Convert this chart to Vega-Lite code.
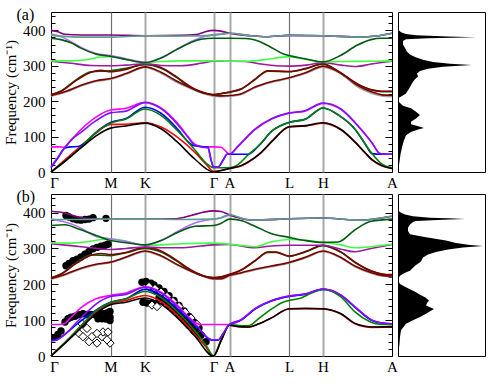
{
"$schema": "https://vega.github.io/schema/vega-lite/v6.json",
"background": "white",
"padding": {"left": 3, "top": 6, "right": 4, "bottom": 4},
"spacing": -3,
"config": {"view": {"stroke": "black", "strokeWidth": 1}, "font": "Liberation Serif"},
"datasets": {
"bands": [
{"p":"a","b":"Lr","k":0,"f":0},{"p":"a","b":"Lr","k":15,"f":37},{"p":"a","b":"Lr","k":30,"f":74},{"p":"a","b":"Lr","k":45,"f":110},{"p":"a","b":"Lr","k":59.5,"f":134},{"p":"a","b":"Lr","k":75,"f":135},{"p":"a","b":"Lr","k":94,"f":139},{"p":"a","b":"Lr","k":110,"f":127},{"p":"a","b":"Lr","k":127,"f":97},{"p":"a","b":"Lr","k":144,"f":55},{"p":"a","b":"Lr","k":155,"f":22},{"p":"a","b":"Lr","k":162.5,"f":2},{"p":"a","b":"Lr","k":170,"f":4},{"p":"a","b":"Lr","k":178.5,"f":10},{"p":"a","b":"Lr","k":190,"f":17},{"p":"a","b":"Lr","k":198,"f":29},{"p":"a","b":"Lr","k":210,"f":54},{"p":"a","b":"Lr","k":222,"f":89},{"p":"a","b":"Lr","k":238,"f":127},{"p":"a","b":"Lr","k":255,"f":130},{"p":"a","b":"Lr","k":272,"f":138},{"p":"a","b":"Lr","k":290,"f":119},{"p":"a","b":"Lr","k":304,"f":84},{"p":"a","b":"Lr","k":314,"f":54},{"p":"a","b":"Lr","k":321,"f":34},{"p":"a","b":"Lr","k":331,"f":17},{"p":"a","b":"Lr","k":341,"f":10},
{"p":"a","b":"Lm","k":0,"f":71},{"p":"a","b":"Lm","k":8,"f":71},{"p":"a","b":"Lm","k":13,"f":70},{"p":"a","b":"Lm","k":20,"f":90},{"p":"a","b":"Lm","k":30,"f":120},{"p":"a","b":"Lm","k":45,"f":155},{"p":"a","b":"Lm","k":59.5,"f":175},{"p":"a","b":"Lm","k":75,"f":180},{"p":"a","b":"Lm","k":94,"f":197},{"p":"a","b":"Lm","k":110,"f":181},{"p":"a","b":"Lm","k":127,"f":136},{"p":"a","b":"Lm","k":137,"f":100},{"p":"a","b":"Lm","k":143,"f":80},{"p":"a","b":"Lm","k":150,"f":72},{"p":"a","b":"Lm","k":157,"f":71},{"p":"a","b":"Lm","k":162.5,"f":71},{"p":"a","b":"Lm","k":170,"f":70},{"p":"a","b":"Lm","k":175,"f":58},{"p":"a","b":"Lm","k":178.5,"f":50},{"p":"a","b":"Lm","k":187,"f":72},{"p":"a","b":"Lm","k":204,"f":120},{"p":"a","b":"Lm","k":221,"f":150},{"p":"a","b":"Lm","k":238,"f":166},{"p":"a","b":"Lm","k":254,"f":172},{"p":"a","b":"Lm","k":272,"f":194},{"p":"a","b":"Lm","k":290,"f":177},{"p":"a","b":"Lm","k":304,"f":139},{"p":"a","b":"Lm","k":321,"f":82},{"p":"a","b":"Lm","k":329,"f":52},{"p":"a","b":"Lm","k":335,"f":50},{"p":"a","b":"Lm","k":341,"f":50},
{"p":"a","b":"Lb","k":0,"f":12},{"p":"a","b":"Lb","k":7,"f":40},{"p":"a","b":"Lb","k":14,"f":68},{"p":"a","b":"Lb","k":20,"f":71},{"p":"a","b":"Lb","k":27,"f":72},{"p":"a","b":"Lb","k":35,"f":85},{"p":"a","b":"Lb","k":45,"f":112},{"p":"a","b":"Lb","k":59.5,"f":140},{"p":"a","b":"Lb","k":75,"f":151},{"p":"a","b":"Lb","k":94,"f":183},{"p":"a","b":"Lb","k":110,"f":166},{"p":"a","b":"Lb","k":127,"f":120},{"p":"a","b":"Lb","k":137,"f":86},{"p":"a","b":"Lb","k":143,"f":74},{"p":"a","b":"Lb","k":150,"f":72},{"p":"a","b":"Lb","k":157,"f":70},{"p":"a","b":"Lb","k":160,"f":35},{"p":"a","b":"Lb","k":162.5,"f":14},{"p":"a","b":"Lb","k":167,"f":14},{"p":"a","b":"Lb","k":172,"f":33},{"p":"a","b":"Lb","k":176,"f":50},{"p":"a","b":"Lb","k":178.5,"f":50},{"p":"a","b":"Lb","k":190,"f":50},{"p":"a","b":"Lb","k":197,"f":50},{"p":"a","b":"Lb","k":208,"f":75},{"p":"a","b":"Lb","k":221,"f":116},{"p":"a","b":"Lb","k":238,"f":140},{"p":"a","b":"Lb","k":255,"f":150},{"p":"a","b":"Lb","k":272,"f":181},{"p":"a","b":"Lb","k":288,"f":160},{"p":"a","b":"Lb","k":304,"f":121},{"p":"a","b":"Lb","k":314,"f":80},{"p":"a","b":"Lb","k":321,"f":52},{"p":"a","b":"Lb","k":330,"f":50},{"p":"a","b":"Lb","k":341,"f":50},
{"p":"a","b":"Lg","k":0,"f":0},{"p":"a","b":"Lg","k":15,"f":32},{"p":"a","b":"Lg","k":30,"f":70},{"p":"a","b":"Lg","k":45,"f":112},{"p":"a","b":"Lg","k":59.5,"f":138},{"p":"a","b":"Lg","k":75,"f":150},{"p":"a","b":"Lg","k":94,"f":178},{"p":"a","b":"Lg","k":110,"f":160},{"p":"a","b":"Lg","k":127,"f":115},{"p":"a","b":"Lg","k":144,"f":62},{"p":"a","b":"Lg","k":155,"f":25},{"p":"a","b":"Lg","k":162.5,"f":12},{"p":"a","b":"Lg","k":170,"f":12},{"p":"a","b":"Lg","k":178.5,"f":12},{"p":"a","b":"Lg","k":187,"f":21},{"p":"a","b":"Lg","k":197,"f":48},{"p":"a","b":"Lg","k":208,"f":75},{"p":"a","b":"Lg","k":221,"f":116},{"p":"a","b":"Lg","k":238,"f":140},{"p":"a","b":"Lg","k":255,"f":150},{"p":"a","b":"Lg","k":272,"f":181},{"p":"a","b":"Lg","k":288,"f":160},{"p":"a","b":"Lg","k":304,"f":121},{"p":"a","b":"Lg","k":314,"f":80},{"p":"a","b":"Lg","k":321,"f":52},{"p":"a","b":"Lg","k":331,"f":22},{"p":"a","b":"Lg","k":341,"f":12},
{"p":"a","b":"Lk","k":0,"f":0},{"p":"a","b":"Lk","k":15,"f":33},{"p":"a","b":"Lk","k":30,"f":68},{"p":"a","b":"Lk","k":45,"f":102},{"p":"a","b":"Lk","k":59.5,"f":124},{"p":"a","b":"Lk","k":75,"f":130},{"p":"a","b":"Lk","k":94,"f":138},{"p":"a","b":"Lk","k":110,"f":122},{"p":"a","b":"Lk","k":127,"f":83},{"p":"a","b":"Lk","k":144,"f":36},{"p":"a","b":"Lk","k":162.5,"f":0},{"p":"a","b":"Lk","k":170,"f":4},{"p":"a","b":"Lk","k":178.5,"f":10},{"p":"a","b":"Lk","k":190,"f":18},{"p":"a","b":"Lk","k":198,"f":30},{"p":"a","b":"Lk","k":210,"f":55},{"p":"a","b":"Lk","k":222,"f":90},{"p":"a","b":"Lk","k":238,"f":128},{"p":"a","b":"Lk","k":255,"f":131},{"p":"a","b":"Lk","k":272,"f":139},{"p":"a","b":"Lk","k":290,"f":120},{"p":"a","b":"Lk","k":304,"f":85},{"p":"a","b":"Lk","k":314,"f":55},{"p":"a","b":"Lk","k":321,"f":35},{"p":"a","b":"Lk","k":331,"f":18},{"p":"a","b":"Lk","k":341,"f":10},
{"p":"a","b":"Lp","k":0,"f":14},{"p":"a","b":"Lp","k":7,"f":42},{"p":"a","b":"Lp","k":14,"f":70},{"p":"a","b":"Lp","k":22,"f":95},{"p":"a","b":"Lp","k":30,"f":112},{"p":"a","b":"Lp","k":45,"f":145},{"p":"a","b":"Lp","k":59.5,"f":167},{"p":"a","b":"Lp","k":75,"f":172},{"p":"a","b":"Lp","k":94,"f":196},{"p":"a","b":"Lp","k":110,"f":179},{"p":"a","b":"Lp","k":127,"f":133},{"p":"a","b":"Lp","k":137,"f":98},{"p":"a","b":"Lp","k":143,"f":78},{"p":"a","b":"Lp","k":150,"f":71},{"p":"a","b":"Lp","k":157,"f":68},{"p":"a","b":"Lp","k":160,"f":35},{"p":"a","b":"Lp","k":162.5,"f":14},{"p":"a","b":"Lp","k":167,"f":14},{"p":"a","b":"Lp","k":172,"f":33},{"p":"a","b":"Lp","k":176,"f":50},{"p":"a","b":"Lp","k":178.5,"f":50},{"p":"a","b":"Lp","k":187,"f":73},{"p":"a","b":"Lp","k":204,"f":121},{"p":"a","b":"Lp","k":221,"f":151},{"p":"a","b":"Lp","k":238,"f":167},{"p":"a","b":"Lp","k":254,"f":173},{"p":"a","b":"Lp","k":272,"f":195},{"p":"a","b":"Lp","k":290,"f":178},{"p":"a","b":"Lp","k":304,"f":140},{"p":"a","b":"Lp","k":321,"f":83},{"p":"a","b":"Lp","k":329,"f":52},{"p":"a","b":"Lp","k":335,"f":50},{"p":"a","b":"Lp","k":341,"f":50},
{"p":"a","b":"Ugy","k":0,"f":214},{"p":"a","b":"Ugy","k":15,"f":226},{"p":"a","b":"Ugy","k":30,"f":243},{"p":"a","b":"Ugy","k":45,"f":256},{"p":"a","b":"Ugy","k":59.5,"f":262},{"p":"a","b":"Ugy","k":75,"f":276},{"p":"a","b":"Ugy","k":94,"f":295},{"p":"a","b":"Ugy","k":110,"f":279},{"p":"a","b":"Ugy","k":125,"f":255},{"p":"a","b":"Ugy","k":140,"f":235},{"p":"a","b":"Ugy","k":152,"f":222},{"p":"a","b":"Ugy","k":162.5,"f":214},{"p":"a","b":"Ugy","k":170,"f":213},{"p":"a","b":"Ugy","k":178.5,"f":214},{"p":"a","b":"Ugy","k":191,"f":220},{"p":"a","b":"Ugy","k":204,"f":238},{"p":"a","b":"Ugy","k":220,"f":253},{"p":"a","b":"Ugy","k":238,"f":264},{"p":"a","b":"Ugy","k":255,"f":279},{"p":"a","b":"Ugy","k":272,"f":296},{"p":"a","b":"Ugy","k":290,"f":277},{"p":"a","b":"Ugy","k":307,"f":240},{"p":"a","b":"Ugy","k":321,"f":222},{"p":"a","b":"Ugy","k":331,"f":215},{"p":"a","b":"Ugy","k":341,"f":213},
{"p":"a","b":"Udgl","k":0,"f":218},{"p":"a","b":"Udgl","k":10,"f":229},{"p":"a","b":"Udgl","k":25,"f":260},{"p":"a","b":"Udgl","k":40,"f":283},{"p":"a","b":"Udgl","k":59.5,"f":286},{"p":"a","b":"Udgl","k":75,"f":293},{"p":"a","b":"Udgl","k":94,"f":303},{"p":"a","b":"Udgl","k":110,"f":293},{"p":"a","b":"Udgl","k":125,"f":268},{"p":"a","b":"Udgl","k":140,"f":238},{"p":"a","b":"Udgl","k":152,"f":223},{"p":"a","b":"Udgl","k":162.5,"f":218},{"p":"a","b":"Udgl","k":170,"f":221},{"p":"a","b":"Udgl","k":178.5,"f":225},{"p":"a","b":"Udgl","k":191,"f":235},{"p":"a","b":"Udgl","k":204,"f":261},{"p":"a","b":"Udgl","k":217,"f":285},{"p":"a","b":"Udgl","k":238,"f":283},{"p":"a","b":"Udgl","k":254,"f":291},{"p":"a","b":"Udgl","k":272,"f":305},{"p":"a","b":"Udgl","k":287,"f":284},{"p":"a","b":"Udgl","k":307,"f":247},{"p":"a","b":"Udgl","k":321,"f":231},{"p":"a","b":"Udgl","k":331,"f":227},{"p":"a","b":"Udgl","k":341,"f":227},
{"p":"a","b":"Udrl","k":0,"f":216},{"p":"a","b":"Udrl","k":15,"f":228},{"p":"a","b":"Udrl","k":30,"f":245},{"p":"a","b":"Udrl","k":45,"f":258},{"p":"a","b":"Udrl","k":59.5,"f":264},{"p":"a","b":"Udrl","k":75,"f":278},{"p":"a","b":"Udrl","k":94,"f":297},{"p":"a","b":"Udrl","k":110,"f":282},{"p":"a","b":"Udrl","k":125,"f":258},{"p":"a","b":"Udrl","k":140,"f":238},{"p":"a","b":"Udrl","k":152,"f":225},{"p":"a","b":"Udrl","k":162.5,"f":217},{"p":"a","b":"Udrl","k":170,"f":215},{"p":"a","b":"Udrl","k":178.5,"f":216},{"p":"a","b":"Udrl","k":191,"f":222},{"p":"a","b":"Udrl","k":204,"f":240},{"p":"a","b":"Udrl","k":220,"f":255},{"p":"a","b":"Udrl","k":238,"f":266},{"p":"a","b":"Udrl","k":255,"f":281},{"p":"a","b":"Udrl","k":272,"f":299},{"p":"a","b":"Udrl","k":290,"f":280},{"p":"a","b":"Udrl","k":307,"f":244},{"p":"a","b":"Udrl","k":321,"f":226},{"p":"a","b":"Udrl","k":331,"f":218},{"p":"a","b":"Udrl","k":341,"f":217},
{"p":"a","b":"Udrh","k":0,"f":218},{"p":"a","b":"Udrh","k":10,"f":228},{"p":"a","b":"Udrh","k":25,"f":258},{"p":"a","b":"Udrh","k":40,"f":282},{"p":"a","b":"Udrh","k":50,"f":287},{"p":"a","b":"Udrh","k":59.5,"f":283},{"p":"a","b":"Udrh","k":75,"f":290},{"p":"a","b":"Udrh","k":94,"f":306},{"p":"a","b":"Udrh","k":110,"f":295},{"p":"a","b":"Udrh","k":125,"f":270},{"p":"a","b":"Udrh","k":140,"f":240},{"p":"a","b":"Udrh","k":152,"f":224},{"p":"a","b":"Udrh","k":162.5,"f":219},{"p":"a","b":"Udrh","k":170,"f":222},{"p":"a","b":"Udrh","k":178.5,"f":226},{"p":"a","b":"Udrh","k":191,"f":236},{"p":"a","b":"Udrh","k":204,"f":262},{"p":"a","b":"Udrh","k":217,"f":286},{"p":"a","b":"Udrh","k":238,"f":284},{"p":"a","b":"Udrh","k":254,"f":292},{"p":"a","b":"Udrh","k":272,"f":306},{"p":"a","b":"Udrh","k":287,"f":285},{"p":"a","b":"Udrh","k":307,"f":248},{"p":"a","b":"Udrh","k":321,"f":232},{"p":"a","b":"Udrh","k":331,"f":228},{"p":"a","b":"Udrh","k":341,"f":228},
{"p":"a","b":"Upm","k":0,"f":313},{"p":"a","b":"Upm","k":20,"f":307},{"p":"a","b":"Upm","k":40,"f":301},{"p":"a","b":"Upm","k":59.5,"f":300},{"p":"a","b":"Upm","k":75,"f":302},{"p":"a","b":"Upm","k":94,"f":306},{"p":"a","b":"Upm","k":110,"f":301},{"p":"a","b":"Upm","k":130,"f":300},{"p":"a","b":"Upm","k":150,"f":307},{"p":"a","b":"Upm","k":162.5,"f":313},{"p":"a","b":"Upm","k":178.5,"f":313},{"p":"a","b":"Upm","k":195,"f":312},{"p":"a","b":"Upm","k":210,"f":305},{"p":"a","b":"Upm","k":225,"f":300},{"p":"a","b":"Upm","k":238,"f":299},{"p":"a","b":"Upm","k":255,"f":302},{"p":"a","b":"Upm","k":272,"f":309},{"p":"a","b":"Upm","k":290,"f":302},{"p":"a","b":"Upm","k":305,"f":298},{"p":"a","b":"Upm","k":320,"f":305},{"p":"a","b":"Upm","k":341,"f":313},
{"p":"a","b":"Ulg","k":0,"f":314},{"p":"a","b":"Ulg","k":20,"f":314},{"p":"a","b":"Ulg","k":35,"f":317},{"p":"a","b":"Ulg","k":50,"f":325},{"p":"a","b":"Ulg","k":59.5,"f":326},{"p":"a","b":"Ulg","k":75,"f":318},{"p":"a","b":"Ulg","k":94,"f":309},{"p":"a","b":"Ulg","k":110,"f":312},{"p":"a","b":"Ulg","k":130,"f":314},{"p":"a","b":"Ulg","k":162.5,"f":314},{"p":"a","b":"Ulg","k":178.5,"f":313},{"p":"a","b":"Ulg","k":197,"f":313},{"p":"a","b":"Ulg","k":215,"f":318},{"p":"a","b":"Ulg","k":238,"f":326},{"p":"a","b":"Ulg","k":255,"f":318},{"p":"a","b":"Ulg","k":272,"f":311},{"p":"a","b":"Ulg","k":290,"f":312},{"p":"a","b":"Ulg","k":320,"f":313},{"p":"a","b":"Ulg","k":341,"f":314},
{"p":"a","b":"Uv","k":0,"f":390},{"p":"a","b":"Uv","k":10,"f":383},{"p":"a","b":"Uv","k":20,"f":368},{"p":"a","b":"Uv","k":30,"f":352},{"p":"a","b":"Uv","k":45,"f":335},{"p":"a","b":"Uv","k":59.5,"f":329},{"p":"a","b":"Uv","k":75,"f":320},{"p":"a","b":"Uv","k":94,"f":310},{"p":"a","b":"Uv","k":110,"f":322},{"p":"a","b":"Uv","k":125,"f":345},{"p":"a","b":"Uv","k":140,"f":368},{"p":"a","b":"Uv","k":150,"f":380},{"p":"a","b":"Uv","k":162.5,"f":388},{"p":"a","b":"Uv","k":170,"f":390},{"p":"a","b":"Uv","k":178.5,"f":392},{"p":"a","b":"Uv","k":200,"f":385},{"p":"a","b":"Uv","k":215,"f":382},{"p":"a","b":"Uv","k":238,"f":386},{"p":"a","b":"Uv","k":272,"f":385},{"p":"a","b":"Uv","k":310,"f":381},{"p":"a","b":"Uv","k":325,"f":384},{"p":"a","b":"Uv","k":341,"f":392},
{"p":"a","b":"Udgh","k":0,"f":378},{"p":"a","b":"Udgh","k":10,"f":374},{"p":"a","b":"Udgh","k":20,"f":365},{"p":"a","b":"Udgh","k":30,"f":350},{"p":"a","b":"Udgh","k":45,"f":333},{"p":"a","b":"Udgh","k":59.5,"f":327},{"p":"a","b":"Udgh","k":75,"f":318},{"p":"a","b":"Udgh","k":94,"f":309},{"p":"a","b":"Udgh","k":110,"f":322},{"p":"a","b":"Udgh","k":125,"f":345},{"p":"a","b":"Udgh","k":140,"f":366},{"p":"a","b":"Udgh","k":150,"f":375},{"p":"a","b":"Udgh","k":162.5,"f":378},{"p":"a","b":"Udgh","k":178.5,"f":378},{"p":"a","b":"Udgh","k":195,"f":377},{"p":"a","b":"Udgh","k":205,"f":372},{"p":"a","b":"Udgh","k":219,"f":354},{"p":"a","b":"Udgh","k":232,"f":334},{"p":"a","b":"Udgh","k":238,"f":329},{"p":"a","b":"Udgh","k":254,"f":320},{"p":"a","b":"Udgh","k":272,"f":311},{"p":"a","b":"Udgh","k":290,"f":330},{"p":"a","b":"Udgh","k":306,"f":358},{"p":"a","b":"Udgh","k":320,"f":374},{"p":"a","b":"Udgh","k":330,"f":378},{"p":"a","b":"Udgh","k":341,"f":378},
{"p":"a","b":"Upt","k":0,"f":400},{"p":"a","b":"Upt","k":7,"f":396},{"p":"a","b":"Upt","k":14,"f":389},{"p":"a","b":"Upt","k":30,"f":387},{"p":"a","b":"Upt","k":59.5,"f":387},{"p":"a","b":"Upt","k":94,"f":385},{"p":"a","b":"Upt","k":130,"f":386},{"p":"a","b":"Upt","k":145,"f":388},{"p":"a","b":"Upt","k":153,"f":395},{"p":"a","b":"Upt","k":162.5,"f":400},{"p":"a","b":"Upt","k":170,"f":398},{"p":"a","b":"Upt","k":178.5,"f":392},{"p":"a","b":"Upt","k":200,"f":385},{"p":"a","b":"Upt","k":215,"f":382},{"p":"a","b":"Upt","k":238,"f":386},{"p":"a","b":"Upt","k":272,"f":385},{"p":"a","b":"Upt","k":310,"f":381},{"p":"a","b":"Upt","k":325,"f":384},{"p":"a","b":"Upt","k":341,"f":392},
{"p":"a","b":"Ut","k":0,"f":386},{"p":"a","b":"Ut","k":30,"f":381},{"p":"a","b":"Ut","k":59.5,"f":381},{"p":"a","b":"Ut","k":94,"f":385},{"p":"a","b":"Ut","k":130,"f":384},{"p":"a","b":"Ut","k":162.5,"f":386},{"p":"a","b":"Ut","k":170,"f":389},{"p":"a","b":"Ut","k":178.5,"f":392},{"p":"a","b":"Ut","k":200,"f":385},{"p":"a","b":"Ut","k":215,"f":382},{"p":"a","b":"Ut","k":238,"f":386},{"p":"a","b":"Ut","k":272,"f":385},{"p":"a","b":"Ut","k":310,"f":381},{"p":"a","b":"Ut","k":325,"f":384},{"p":"a","b":"Ut","k":341,"f":392},

{"p":"b","b":"Lr","k":0,"f":0},{"p":"b","b":"Lr","k":15,"f":40},{"p":"b","b":"Lr","k":30,"f":82},{"p":"b","b":"Lr","k":45,"f":122},{"p":"b","b":"Lr","k":59.5,"f":146},{"p":"b","b":"Lr","k":75,"f":155},{"p":"b","b":"Lr","k":94,"f":169},{"p":"b","b":"Lr","k":110,"f":152},{"p":"b","b":"Lr","k":127,"f":112},{"p":"b","b":"Lr","k":144,"f":60},{"p":"b","b":"Lr","k":155,"f":25},{"p":"b","b":"Lr","k":162.5,"f":0},{"p":"b","b":"Lr","k":170,"f":42},{"p":"b","b":"Lr","k":178.5,"f":86},{"p":"b","b":"Lr","k":188,"f":82},{"p":"b","b":"Lr","k":197,"f":81},{"p":"b","b":"Lr","k":208,"f":90},{"p":"b","b":"Lr","k":221,"f":107},{"p":"b","b":"Lr","k":238,"f":131},{"p":"b","b":"Lr","k":255,"f":132},{"p":"b","b":"Lr","k":272,"f":131},{"p":"b","b":"Lr","k":290,"f":117},{"p":"b","b":"Lr","k":304,"f":90},{"p":"b","b":"Lr","k":314,"f":82},{"p":"b","b":"Lr","k":321,"f":80},{"p":"b","b":"Lr","k":341,"f":81},
{"p":"b","b":"Lm","k":0,"f":88},{"p":"b","b":"Lm","k":8,"f":88},{"p":"b","b":"Lm","k":13,"f":90},{"p":"b","b":"Lm","k":20,"f":108},{"p":"b","b":"Lm","k":30,"f":135},{"p":"b","b":"Lm","k":45,"f":160},{"p":"b","b":"Lm","k":59.5,"f":169},{"p":"b","b":"Lm","k":75,"f":176},{"p":"b","b":"Lm","k":94,"f":193},{"p":"b","b":"Lm","k":110,"f":178},{"p":"b","b":"Lm","k":127,"f":140},{"p":"b","b":"Lm","k":138,"f":108},{"p":"b","b":"Lm","k":145,"f":92},{"p":"b","b":"Lm","k":150,"f":88},{"p":"b","b":"Lm","k":162.5,"f":88},{"p":"b","b":"Lm","k":178.5,"f":88},{"p":"b","b":"Lm","k":190,"f":100},{"p":"b","b":"Lm","k":204,"f":132},{"p":"b","b":"Lm","k":221,"f":155},{"p":"b","b":"Lm","k":238,"f":167},{"p":"b","b":"Lm","k":254,"f":173},{"p":"b","b":"Lm","k":272,"f":187},{"p":"b","b":"Lm","k":290,"f":170},{"p":"b","b":"Lm","k":304,"f":137},{"p":"b","b":"Lm","k":321,"f":100},{"p":"b","b":"Lm","k":331,"f":92},{"p":"b","b":"Lm","k":341,"f":90},
{"p":"b","b":"Lb","k":0,"f":44},{"p":"b","b":"Lb","k":5,"f":45},{"p":"b","b":"Lb","k":10,"f":52},{"p":"b","b":"Lb","k":15,"f":63},{"p":"b","b":"Lb","k":22,"f":80},{"p":"b","b":"Lb","k":30,"f":98},{"p":"b","b":"Lb","k":40,"f":118},{"p":"b","b":"Lb","k":50,"f":137},{"p":"b","b":"Lb","k":59.5,"f":150},{"p":"b","b":"Lb","k":75,"f":160},{"p":"b","b":"Lb","k":94,"f":186},{"p":"b","b":"Lb","k":110,"f":170},{"p":"b","b":"Lb","k":127,"f":130},{"p":"b","b":"Lb","k":140,"f":96},{"p":"b","b":"Lb","k":146,"f":80},{"p":"b","b":"Lb","k":152,"f":65},{"p":"b","b":"Lb","k":157,"f":48},{"p":"b","b":"Lb","k":162.5,"f":44},{"p":"b","b":"Lb","k":167,"f":44},{"p":"b","b":"Lb","k":172,"f":62},{"p":"b","b":"Lb","k":178.5,"f":88},{"p":"b","b":"Lb","k":190,"f":100},{"p":"b","b":"Lb","k":204,"f":131},{"p":"b","b":"Lb","k":221,"f":154},{"p":"b","b":"Lb","k":238,"f":166},{"p":"b","b":"Lb","k":254,"f":172},{"p":"b","b":"Lb","k":272,"f":186},{"p":"b","b":"Lb","k":290,"f":169},{"p":"b","b":"Lb","k":304,"f":136},{"p":"b","b":"Lb","k":321,"f":99},{"p":"b","b":"Lb","k":331,"f":92},{"p":"b","b":"Lb","k":341,"f":90},
{"p":"b","b":"Lg","k":0,"f":0},{"p":"b","b":"Lg","k":10,"f":27},{"p":"b","b":"Lg","k":20,"f":55},{"p":"b","b":"Lg","k":30,"f":85},{"p":"b","b":"Lg","k":45,"f":126},{"p":"b","b":"Lg","k":59.5,"f":149},{"p":"b","b":"Lg","k":75,"f":160},{"p":"b","b":"Lg","k":94,"f":180},{"p":"b","b":"Lg","k":110,"f":163},{"p":"b","b":"Lg","k":127,"f":122},{"p":"b","b":"Lg","k":144,"f":70},{"p":"b","b":"Lg","k":155,"f":30},{"p":"b","b":"Lg","k":162.5,"f":0},{"p":"b","b":"Lg","k":170,"f":44},{"p":"b","b":"Lg","k":178.5,"f":88},{"p":"b","b":"Lg","k":188,"f":85},{"p":"b","b":"Lg","k":197,"f":84},{"p":"b","b":"Lg","k":208,"f":105},{"p":"b","b":"Lg","k":221,"f":132},{"p":"b","b":"Lg","k":232,"f":150},{"p":"b","b":"Lg","k":238,"f":155},{"p":"b","b":"Lg","k":250,"f":162},{"p":"b","b":"Lg","k":260,"f":175},{"p":"b","b":"Lg","k":272,"f":186},{"p":"b","b":"Lg","k":290,"f":165},{"p":"b","b":"Lg","k":304,"f":123},{"p":"b","b":"Lg","k":318,"f":97},{"p":"b","b":"Lg","k":331,"f":88},{"p":"b","b":"Lg","k":341,"f":88},
{"p":"b","b":"Lk","k":0,"f":0},{"p":"b","b":"Lk","k":15,"f":38},{"p":"b","b":"Lk","k":30,"f":78},{"p":"b","b":"Lk","k":45,"f":118},{"p":"b","b":"Lk","k":59.5,"f":143},{"p":"b","b":"Lk","k":75,"f":150},{"p":"b","b":"Lk","k":94,"f":162},{"p":"b","b":"Lk","k":110,"f":145},{"p":"b","b":"Lk","k":127,"f":105},{"p":"b","b":"Lk","k":144,"f":55},{"p":"b","b":"Lk","k":162.5,"f":0},{"p":"b","b":"Lk","k":170,"f":42},{"p":"b","b":"Lk","k":178.5,"f":86},{"p":"b","b":"Lk","k":188,"f":82},{"p":"b","b":"Lk","k":197,"f":81},{"p":"b","b":"Lk","k":208,"f":90},{"p":"b","b":"Lk","k":221,"f":107},{"p":"b","b":"Lk","k":238,"f":132},{"p":"b","b":"Lk","k":255,"f":133},{"p":"b","b":"Lk","k":272,"f":132},{"p":"b","b":"Lk","k":290,"f":118},{"p":"b","b":"Lk","k":304,"f":91},{"p":"b","b":"Lk","k":314,"f":83},{"p":"b","b":"Lk","k":321,"f":81},{"p":"b","b":"Lk","k":341,"f":82},
{"p":"b","b":"Lp","k":0,"f":42},{"p":"b","b":"Lp","k":5,"f":44},{"p":"b","b":"Lp","k":10,"f":52},{"p":"b","b":"Lp","k":17,"f":68},{"p":"b","b":"Lp","k":25,"f":92},{"p":"b","b":"Lp","k":35,"f":120},{"p":"b","b":"Lp","k":45,"f":145},{"p":"b","b":"Lp","k":59.5,"f":166},{"p":"b","b":"Lp","k":75,"f":172},{"p":"b","b":"Lp","k":94,"f":192},{"p":"b","b":"Lp","k":110,"f":176},{"p":"b","b":"Lp","k":127,"f":136},{"p":"b","b":"Lp","k":140,"f":100},{"p":"b","b":"Lp","k":148,"f":78},{"p":"b","b":"Lp","k":155,"f":55},{"p":"b","b":"Lp","k":162.5,"f":45},{"p":"b","b":"Lp","k":167,"f":45},{"p":"b","b":"Lp","k":172,"f":62},{"p":"b","b":"Lp","k":178.5,"f":88},{"p":"b","b":"Lp","k":190,"f":101},{"p":"b","b":"Lp","k":204,"f":132},{"p":"b","b":"Lp","k":221,"f":155},{"p":"b","b":"Lp","k":238,"f":167},{"p":"b","b":"Lp","k":254,"f":173},{"p":"b","b":"Lp","k":272,"f":187},{"p":"b","b":"Lp","k":290,"f":170},{"p":"b","b":"Lp","k":304,"f":137},{"p":"b","b":"Lp","k":321,"f":100},{"p":"b","b":"Lp","k":331,"f":92},{"p":"b","b":"Lp","k":341,"f":90},
{"p":"b","b":"Ugy","k":0,"f":214},{"p":"b","b":"Ugy","k":15,"f":227},{"p":"b","b":"Ugy","k":30,"f":243},{"p":"b","b":"Ugy","k":45,"f":254},{"p":"b","b":"Ugy","k":59.5,"f":260},{"p":"b","b":"Ugy","k":75,"f":274},{"p":"b","b":"Ugy","k":94,"f":291},{"p":"b","b":"Ugy","k":110,"f":278},{"p":"b","b":"Ugy","k":125,"f":255},{"p":"b","b":"Ugy","k":140,"f":235},{"p":"b","b":"Ugy","k":152,"f":222},{"p":"b","b":"Ugy","k":162.5,"f":214},{"p":"b","b":"Ugy","k":170,"f":214},{"p":"b","b":"Ugy","k":178.5,"f":223},{"p":"b","b":"Ugy","k":191,"f":231},{"p":"b","b":"Ugy","k":204,"f":240},{"p":"b","b":"Ugy","k":220,"f":249},{"p":"b","b":"Ugy","k":238,"f":259},{"p":"b","b":"Ugy","k":255,"f":274},{"p":"b","b":"Ugy","k":272,"f":291},{"p":"b","b":"Ugy","k":290,"f":273},{"p":"b","b":"Ugy","k":304,"f":249},{"p":"b","b":"Ugy","k":320,"f":231},{"p":"b","b":"Ugy","k":331,"f":223},{"p":"b","b":"Ugy","k":341,"f":221},
{"p":"b","b":"Udgl","k":0,"f":218},{"p":"b","b":"Udgl","k":10,"f":229},{"p":"b","b":"Udgl","k":25,"f":260},{"p":"b","b":"Udgl","k":40,"f":282},{"p":"b","b":"Udgl","k":59.5,"f":280},{"p":"b","b":"Udgl","k":75,"f":288},{"p":"b","b":"Udgl","k":94,"f":300},{"p":"b","b":"Udgl","k":110,"f":290},{"p":"b","b":"Udgl","k":125,"f":266},{"p":"b","b":"Udgl","k":140,"f":238},{"p":"b","b":"Udgl","k":152,"f":223},{"p":"b","b":"Udgl","k":162.5,"f":218},{"p":"b","b":"Udgl","k":170,"f":220},{"p":"b","b":"Udgl","k":178.5,"f":227},{"p":"b","b":"Udgl","k":190,"f":239},{"p":"b","b":"Udgl","k":204,"f":265},{"p":"b","b":"Udgl","k":217,"f":289},{"p":"b","b":"Udgl","k":225,"f":289},{"p":"b","b":"Udgl","k":238,"f":278},{"p":"b","b":"Udgl","k":255,"f":291},{"p":"b","b":"Udgl","k":272,"f":308},{"p":"b","b":"Udgl","k":290,"f":289},{"p":"b","b":"Udgl","k":304,"f":261},{"p":"b","b":"Udgl","k":320,"f":237},{"p":"b","b":"Udgl","k":331,"f":228},{"p":"b","b":"Udgl","k":341,"f":226},
{"p":"b","b":"Udrl","k":0,"f":216},{"p":"b","b":"Udrl","k":15,"f":229},{"p":"b","b":"Udrl","k":30,"f":245},{"p":"b","b":"Udrl","k":45,"f":256},{"p":"b","b":"Udrl","k":59.5,"f":262},{"p":"b","b":"Udrl","k":75,"f":276},{"p":"b","b":"Udrl","k":94,"f":293},{"p":"b","b":"Udrl","k":110,"f":280},{"p":"b","b":"Udrl","k":125,"f":257},{"p":"b","b":"Udrl","k":140,"f":237},{"p":"b","b":"Udrl","k":152,"f":224},{"p":"b","b":"Udrl","k":162.5,"f":216},{"p":"b","b":"Udrl","k":170,"f":216},{"p":"b","b":"Udrl","k":178.5,"f":225},{"p":"b","b":"Udrl","k":191,"f":233},{"p":"b","b":"Udrl","k":204,"f":242},{"p":"b","b":"Udrl","k":220,"f":251},{"p":"b","b":"Udrl","k":238,"f":261},{"p":"b","b":"Udrl","k":255,"f":276},{"p":"b","b":"Udrl","k":272,"f":293},{"p":"b","b":"Udrl","k":290,"f":275},{"p":"b","b":"Udrl","k":304,"f":251},{"p":"b","b":"Udrl","k":320,"f":233},{"p":"b","b":"Udrl","k":331,"f":225},{"p":"b","b":"Udrl","k":341,"f":223},
{"p":"b","b":"Udrh","k":0,"f":217},{"p":"b","b":"Udrh","k":10,"f":228},{"p":"b","b":"Udrh","k":25,"f":258},{"p":"b","b":"Udrh","k":40,"f":281},{"p":"b","b":"Udrh","k":50,"f":286},{"p":"b","b":"Udrh","k":59.5,"f":283},{"p":"b","b":"Udrh","k":75,"f":289},{"p":"b","b":"Udrh","k":94,"f":303},{"p":"b","b":"Udrh","k":110,"f":293},{"p":"b","b":"Udrh","k":125,"f":268},{"p":"b","b":"Udrh","k":140,"f":240},{"p":"b","b":"Udrh","k":152,"f":224},{"p":"b","b":"Udrh","k":162.5,"f":219},{"p":"b","b":"Udrh","k":170,"f":221},{"p":"b","b":"Udrh","k":178.5,"f":228},{"p":"b","b":"Udrh","k":190,"f":240},{"p":"b","b":"Udrh","k":204,"f":266},{"p":"b","b":"Udrh","k":217,"f":290},{"p":"b","b":"Udrh","k":225,"f":290},{"p":"b","b":"Udrh","k":238,"f":279},{"p":"b","b":"Udrh","k":255,"f":292},{"p":"b","b":"Udrh","k":272,"f":309},{"p":"b","b":"Udrh","k":290,"f":290},{"p":"b","b":"Udrh","k":304,"f":262},{"p":"b","b":"Udrh","k":320,"f":238},{"p":"b","b":"Udrh","k":331,"f":229},{"p":"b","b":"Udrh","k":341,"f":227},
{"p":"b","b":"Upm","k":0,"f":313},{"p":"b","b":"Upm","k":20,"f":308},{"p":"b","b":"Upm","k":40,"f":302},{"p":"b","b":"Upm","k":59.5,"f":297},{"p":"b","b":"Upm","k":75,"f":300},{"p":"b","b":"Upm","k":94,"f":304},{"p":"b","b":"Upm","k":110,"f":302},{"p":"b","b":"Upm","k":130,"f":302},{"p":"b","b":"Upm","k":150,"f":307},{"p":"b","b":"Upm","k":162.5,"f":310},{"p":"b","b":"Upm","k":178.5,"f":311},{"p":"b","b":"Upm","k":204,"f":302},{"p":"b","b":"Upm","k":220,"f":307},{"p":"b","b":"Upm","k":238,"f":309},{"p":"b","b":"Upm","k":272,"f":309},{"p":"b","b":"Upm","k":290,"f":298},{"p":"b","b":"Upm","k":304,"f":291},{"p":"b","b":"Upm","k":320,"f":300},{"p":"b","b":"Upm","k":341,"f":311},
{"p":"b","b":"Ulg","k":0,"f":316},{"p":"b","b":"Ulg","k":20,"f":315},{"p":"b","b":"Ulg","k":35,"f":318},{"p":"b","b":"Ulg","k":50,"f":325},{"p":"b","b":"Ulg","k":59.5,"f":327},{"p":"b","b":"Ulg","k":75,"f":320},{"p":"b","b":"Ulg","k":94,"f":309},{"p":"b","b":"Ulg","k":110,"f":310},{"p":"b","b":"Ulg","k":130,"f":313},{"p":"b","b":"Ulg","k":162.5,"f":315},{"p":"b","b":"Ulg","k":178.5,"f":312},{"p":"b","b":"Ulg","k":195,"f":307},{"p":"b","b":"Ulg","k":204,"f":305},{"p":"b","b":"Ulg","k":220,"f":318},{"p":"b","b":"Ulg","k":238,"f":325},{"p":"b","b":"Ulg","k":255,"f":323},{"p":"b","b":"Ulg","k":272,"f":317},{"p":"b","b":"Ulg","k":290,"f":310},{"p":"b","b":"Ulg","k":304,"f":302},{"p":"b","b":"Ulg","k":320,"f":305},{"p":"b","b":"Ulg","k":341,"f":312},
{"p":"b","b":"Uv","k":0,"f":382},{"p":"b","b":"Uv","k":12,"f":375},{"p":"b","b":"Uv","k":27,"f":361},{"p":"b","b":"Uv","k":44,"f":335},{"p":"b","b":"Uv","k":59.5,"f":327},{"p":"b","b":"Uv","k":75,"f":320},{"p":"b","b":"Uv","k":94,"f":309},{"p":"b","b":"Uv","k":110,"f":322},{"p":"b","b":"Uv","k":127,"f":348},{"p":"b","b":"Uv","k":144,"f":371},{"p":"b","b":"Uv","k":162.5,"f":382},{"p":"b","b":"Uv","k":170,"f":385},{"p":"b","b":"Uv","k":178.5,"f":392},{"p":"b","b":"Uv","k":195,"f":381},{"p":"b","b":"Uv","k":204,"f":379},{"p":"b","b":"Uv","k":238,"f":383},{"p":"b","b":"Uv","k":272,"f":385},{"p":"b","b":"Uv","k":300,"f":380},{"p":"b","b":"Uv","k":310,"f":379},{"p":"b","b":"Uv","k":330,"f":385},{"p":"b","b":"Uv","k":341,"f":390},
{"p":"b","b":"Udgh","k":0,"f":364},{"p":"b","b":"Udgh","k":14,"f":366},{"p":"b","b":"Udgh","k":27,"f":355},{"p":"b","b":"Udgh","k":42,"f":340},{"p":"b","b":"Udgh","k":59.5,"f":322},{"p":"b","b":"Udgh","k":75,"f":316},{"p":"b","b":"Udgh","k":94,"f":310},{"p":"b","b":"Udgh","k":110,"f":322},{"p":"b","b":"Udgh","k":127,"f":345},{"p":"b","b":"Udgh","k":144,"f":362},{"p":"b","b":"Udgh","k":162.5,"f":364},{"p":"b","b":"Udgh","k":170,"f":370},{"p":"b","b":"Udgh","k":178.5,"f":382},{"p":"b","b":"Udgh","k":190,"f":378},{"p":"b","b":"Udgh","k":204,"f":362},{"p":"b","b":"Udgh","k":220,"f":342},{"p":"b","b":"Udgh","k":238,"f":331},{"p":"b","b":"Udgh","k":255,"f":322},{"p":"b","b":"Udgh","k":272,"f":317},{"p":"b","b":"Udgh","k":287,"f":318},{"p":"b","b":"Udgh","k":304,"f":352},{"p":"b","b":"Udgh","k":320,"f":376},{"p":"b","b":"Udgh","k":341,"f":382},
{"p":"b","b":"Upt","k":0,"f":404},{"p":"b","b":"Upt","k":14,"f":399},{"p":"b","b":"Upt","k":27,"f":388},{"p":"b","b":"Upt","k":40,"f":383},{"p":"b","b":"Upt","k":59.5,"f":382},{"p":"b","b":"Upt","k":94,"f":382},{"p":"b","b":"Upt","k":125,"f":383},{"p":"b","b":"Upt","k":140,"f":392},{"p":"b","b":"Upt","k":152,"f":401},{"p":"b","b":"Upt","k":162.5,"f":405},{"p":"b","b":"Upt","k":170,"f":403},{"p":"b","b":"Upt","k":178.5,"f":394},{"p":"b","b":"Upt","k":195,"f":381},{"p":"b","b":"Upt","k":204,"f":379},{"p":"b","b":"Upt","k":238,"f":383},{"p":"b","b":"Upt","k":272,"f":385},{"p":"b","b":"Upt","k":300,"f":380},{"p":"b","b":"Upt","k":310,"f":379},{"p":"b","b":"Upt","k":330,"f":385},{"p":"b","b":"Upt","k":341,"f":390},
{"p":"b","b":"Ut","k":0,"f":381},{"p":"b","b":"Ut","k":30,"f":381},{"p":"b","b":"Ut","k":59.5,"f":382},{"p":"b","b":"Ut","k":94,"f":382},{"p":"b","b":"Ut","k":130,"f":381},{"p":"b","b":"Ut","k":162.5,"f":382},{"p":"b","b":"Ut","k":170,"f":386},{"p":"b","b":"Ut","k":178.5,"f":394},{"p":"b","b":"Ut","k":195,"f":381},{"p":"b","b":"Ut","k":204,"f":379},{"p":"b","b":"Ut","k":238,"f":383},{"p":"b","b":"Ut","k":272,"f":385},{"p":"b","b":"Ut","k":300,"f":380},{"p":"b","b":"Ut","k":310,"f":379},{"p":"b","b":"Ut","k":330,"f":385},{"p":"b","b":"Ut","k":341,"f":390}
],
"exp": [
{"t":"c","k":15,"f":392},{"t":"c","k":18,"f":388},{"t":"c","k":22,"f":383},{"t":"c","k":26,"f":380},{"t":"c","k":30,"f":379},{"t":"c","k":34,"f":381},{"t":"c","k":38,"f":382},{"t":"c","k":42,"f":386},{"t":"c","k":55,"f":384},
{"t":"c","k":15,"f":252},{"t":"c","k":18,"f":258},{"t":"c","k":22,"f":266},{"t":"c","k":26,"f":270},{"t":"c","k":30,"f":276},{"t":"c","k":34,"f":284},{"t":"c","k":38,"f":292},{"t":"c","k":42,"f":299},{"t":"c","k":46,"f":303},{"t":"c","k":50,"f":306},{"t":"c","k":54,"f":309},{"t":"c","k":57,"f":312},
{"t":"c","k":4,"f":52},{"t":"c","k":7,"f":60},{"t":"c","k":10,"f":70},{"t":"c","k":14,"f":95},{"t":"c","k":17,"f":104},{"t":"c","k":20,"f":108},{"t":"c","k":24,"f":111},{"t":"c","k":28,"f":115},{"t":"c","k":32,"f":118},{"t":"c","k":36,"f":116},{"t":"c","k":40,"f":116},{"t":"c","k":44,"f":115},{"t":"c","k":48,"f":117},{"t":"c","k":52,"f":118},{"t":"c","k":56,"f":120},{"t":"c","k":59,"f":124},{"t":"c","k":47,"f":104},{"t":"c","k":51,"f":104},{"t":"c","k":55,"f":103},{"t":"c","k":59,"f":108},{"t":"c","k":59,"f":99},
{"t":"c","k":91,"f":206},{"t":"c","k":95,"f":208},{"t":"c","k":100,"f":203},{"t":"c","k":92,"f":150},{"t":"c","k":96,"f":148},{"t":"c","k":101,"f":147},{"t":"c","k":105,"f":145},
{"t":"c","k":100,"f":190},{"t":"c","k":105,"f":182},{"t":"c","k":110,"f":172},{"t":"c","k":115,"f":160},{"t":"c","k":120,"f":148},{"t":"c","k":125,"f":135},{"t":"c","k":130,"f":120},{"t":"c","k":135,"f":105},{"t":"c","k":140,"f":90},{"t":"c","k":145,"f":75},{"t":"c","k":150,"f":58},{"t":"c","k":155,"f":40},
{"t":"c","k":108,"f":162},{"t":"c","k":113,"f":152},{"t":"c","k":118,"f":140},{"t":"c","k":123,"f":128},{"t":"c","k":128,"f":115},{"t":"c","k":133,"f":100},{"t":"c","k":138,"f":86},{"t":"c","k":143,"f":70},{"t":"c","k":148,"f":55},
{"t":"c","k":103,"f":198},{"t":"c","k":108,"f":190},{"t":"c","k":113,"f":180},{"t":"c","k":118,"f":168},{"t":"c","k":123,"f":155},{"t":"c","k":128,"f":141},{"t":"c","k":133,"f":126},{"t":"c","k":138,"f":110},{"t":"c","k":143,"f":94},{"t":"c","k":148,"f":78},
{"t":"d","k":31,"f":90},{"t":"d","k":36,"f":77},{"t":"d","k":28,"f":63},{"t":"d","k":32,"f":54},{"t":"d","k":38,"f":40},{"t":"d","k":46,"f":36},{"t":"d","k":51,"f":54},{"t":"d","k":52,"f":67},{"t":"d","k":57,"f":67},{"t":"d","k":59,"f":36},{"t":"d","k":41,"f":54},{"t":"d","k":46,"f":63},{"t":"d","k":56,"f":45},
{"t":"d","k":98,"f":194},{"t":"d","k":104,"f":188},{"t":"d","k":110,"f":178},{"t":"d","k":116,"f":166},{"t":"d","k":122,"f":152},{"t":"d","k":128,"f":138},{"t":"d","k":134,"f":122},{"t":"d","k":140,"f":106},{"t":"d","k":146,"f":88},{"t":"d","k":101,"f":142},{"t":"d","k":106,"f":138}
],
"dosa": [
{"f":0,"d":0},{"f":10,"d":0.5},{"f":30,"d":1.5},{"f":50,"d":2.5},{"f":70,"d":4},{"f":90,"d":6},{"f":104,"d":8},{"f":113,"d":13},{"f":120,"d":20},{"f":124,"d":26},{"f":128,"d":22},{"f":135,"d":13},{"f":142,"d":13},{"f":151,"d":18},{"f":161,"d":22},{"f":170,"d":18},{"f":180,"d":13},{"f":187,"d":5},{"f":195,"d":2},{"f":200,"d":0.5},{"f":205,"d":0},{"f":210,"d":1},{"f":215,"d":4},{"f":222,"d":8},{"f":235,"d":11},{"f":245,"d":13},{"f":255,"d":15},{"f":262,"d":17},{"f":270,"d":20},{"f":278,"d":19},{"f":285,"d":22},{"f":292,"d":30},{"f":297,"d":45},{"f":302,"d":74},{"f":306,"d":52},{"f":311,"d":35},{"f":317,"d":25},{"f":325,"d":17},{"f":332,"d":12},{"f":340,"d":9},{"f":350,"d":7},{"f":360,"d":5},{"f":370,"d":5},{"f":375,"d":8},{"f":378,"d":30},{"f":381,"d":78},{"f":383,"d":50},{"f":386,"d":18},{"f":390,"d":8},{"f":395,"d":3},{"f":400,"d":1},{"f":405,"d":0}
],
"dosb": [
{"f":0,"d":0},{"f":16,"d":0.7},{"f":35,"d":1.5},{"f":53,"d":2},{"f":72,"d":3},{"f":90,"d":8},{"f":100,"d":15},{"f":109,"d":22},{"f":118,"d":28},{"f":126,"d":33},{"f":131,"d":36},{"f":136,"d":32},{"f":141,"d":28},{"f":148,"d":29},{"f":155,"d":31},{"f":164,"d":27},{"f":171,"d":22},{"f":178,"d":18},{"f":185,"d":13},{"f":192,"d":8},{"f":201,"d":2},{"f":208,"d":0.5},{"f":215,"d":0},{"f":224,"d":2},{"f":232,"d":7},{"f":238,"d":12},{"f":252,"d":17},{"f":264,"d":23},{"f":275,"d":25},{"f":283,"d":30},{"f":290,"d":38},{"f":297,"d":50},{"f":303,"d":65},{"f":307,"d":85},{"f":310,"d":72},{"f":315,"d":58},{"f":322,"d":48},{"f":331,"d":28},{"f":340,"d":12},{"f":349,"d":10},{"f":358,"d":10},{"f":367,"d":12},{"f":374,"d":15},{"f":377,"d":18},{"f":380,"d":45},{"f":382,"d":67},{"f":384,"d":50},{"f":386,"d":32},{"f":390,"d":15},{"f":395,"d":7},{"f":400,"d":3},{"f":404,"d":1},{"f":409,"d":0}
]
},
"vconcat": [
{"bounds": "flush", "spacing": 6, "hconcat": [
 {"width": 341, "height": 160,
  "title": {"text": "(a)", "anchor": "start", "frame": "bounds", "font": "Liberation Serif", "fontSize": 16, "fontWeight": "normal", "color": "black", "offset": -14, "dx": 13},
  "encoding": {"x": {"field": "k", "type": "quantitative", "scale": {"domain": [0, 341], "nice": false, "zero": false},
    "axis": {"values": [0, 59.5, 94, 162.5, 178.5, 238, 272, 341], "labelExpr": "datum.value===0?'Γ':datum.value===59.5?'M':datum.value===94?'K':datum.value===162.5?'Γ':datum.value===178.5?'A':datum.value===238?'L':datum.value===272?'H':'A'", "title": null, "ticks": false, "domain": false, "grid": true, "gridColor": {"condition": {"test": "datum.value===59.5 || datum.value===238", "value": "#707070"}, "value": "#a8a8a8"}, "gridWidth": {"condition": {"test": "datum.value===59.5 || datum.value===238", "value": 1.2}, "value": 2}, "gridOpacity": {"condition": {"test": "datum.value===0 || datum.value===341", "value": 0}, "value": 1}, "labelFont": "Liberation Serif", "labelFontSize": 15, "labelColor": "black", "labelPadding": 3, "labelFlush": false, "labelOverlap": false, "labelOffset": {"condition": {"test": "datum.value===0", "value": 3}, "value": 0}}}},
  "layer": [
   {"data": {"name": "bands"}, "transform": [{"filter": "datum.p==='a' && substring(datum.b,0,1)==='L'"}],
    "mark": {"type": "line", "interpolate": "monotone", "strokeWidth": 1.6},
    "encoding": {"y": {"field": "f", "type": "quantitative", "scale": {"domain": [0, 452], "nice": false},
       "axis": {"values": [0,20,40,60,80,100,120,140,160,180,200,220,240,260,280,300,320,340,360,380,400,420,440], "labelExpr": "datum.value % 100 === 0 ? datum.label : ''", "labelOverlap": false, "tickSize": {"condition": {"test": "datum.value % 100 === 0", "value": -7}, "value": -4}, "tickColor": "black", "labelPadding": 13, "domain": false, "grid": false, "title": "Frequency (cm⁻¹)", "titleFont": "Liberation Serif", "titleFontSize": 15, "titleFontWeight": "normal", "titleColor": "black", "labelFont": "Liberation Serif", "labelFontSize": 15, "labelColor": "black"}},
     "color": {"field": "b", "type": "nominal", "legend": null, "scale": {"domain": ["Lr","Lm","Lb","Lg","Lk","Lp","Ugy","Udgl","Udrl","Udrh","Upm","Ulg","Uv","Udgh","Upt","Ut"], "range": ["#ff0000","#ff00ff","#0000ff","#008000","#000000","#8010ff","#a0a0a0","#006400","#7a0000","#800000","#9a1aa0","#40ff40","#b070ff","#005a10","#800080","#5f9f8f"]}}}},
   {"data": {"name": "bands"}, "transform": [{"filter": "datum.p==='a' && substring(datum.b,0,1)==='U'"}],
    "mark": {"type": "line", "interpolate": "monotone", "strokeWidth": 1.6},
    "encoding": {"y": {"field": "f", "type": "quantitative", "scale": {"domain": [0, 452], "nice": false},
       "axis": {"orient": "right", "values": [0,20,40,60,80,100,120,140,160,180,200,220,240,260,280,300,320,340,360,380,400,420,440], "labels": false, "tickSize": {"condition": {"test": "datum.value % 100 === 0", "value": -7}, "value": -4}, "tickColor": "black", "domain": false, "grid": false, "title": null}},
     "color": {"field": "b", "type": "nominal", "legend": null}}}
  ],
  "resolve": {"axis": {"y": "independent"}}},
 {"width": 87, "height": 160, "data": {"name": "dosa"},
  "mark": {"type": "area", "orient": "horizontal", "color": "black"},
  "encoding": {"y": {"field": "f", "type": "quantitative", "scale": {"domain": [0, 452], "nice": false}, "axis": null},
   "x": {"field": "d", "type": "quantitative", "scale": {"domain": [0, 87], "nice": false}, "axis": null}}}
]},
{"bounds": "flush", "spacing": 6, "hconcat": [
 {"width": 341, "height": 162,
  "title": {"text": "(b)", "anchor": "start", "frame": "bounds", "font": "Liberation Serif", "fontSize": 16, "fontWeight": "normal", "color": "black", "offset": -14, "dx": 13},
  "encoding": {"x": {"field": "k", "type": "quantitative", "scale": {"domain": [0, 341], "nice": false, "zero": false},
    "axis": {"values": [0, 59.5, 94, 162.5, 178.5, 238, 272, 341], "labelExpr": "datum.value===0?'Γ':datum.value===59.5?'M':datum.value===94?'K':datum.value===162.5?'Γ':datum.value===178.5?'A':datum.value===238?'L':datum.value===272?'H':'A'", "title": null, "ticks": false, "domain": false, "grid": true, "gridColor": {"condition": {"test": "datum.value===59.5 || datum.value===238", "value": "#707070"}, "value": "#a8a8a8"}, "gridWidth": {"condition": {"test": "datum.value===59.5 || datum.value===238", "value": 1.2}, "value": 2}, "gridOpacity": {"condition": {"test": "datum.value===0 || datum.value===341", "value": 0}, "value": 1}, "labelFont": "Liberation Serif", "labelFontSize": 15, "labelColor": "black", "labelPadding": 3, "labelFlush": false, "labelOverlap": false, "labelOffset": {"condition": {"test": "datum.value===0", "value": 3}, "value": 0}}}},
  "layer": [
   {"data": {"name": "exp"}, "transform": [{"filter": "datum.t==='c'"}],
    "mark": {"type": "point", "shape": "circle", "filled": true, "color": "black", "size": 55, "opacity": 1},
    "encoding": {"y": {"field": "f", "type": "quantitative", "scale": {"domain": [0, 452], "nice": false}, "axis": null}}},
   {"data": {"name": "exp"}, "transform": [{"filter": "datum.t==='d'"}],
    "mark": {"type": "point", "shape": "diamond", "filled": true, "fill": "white", "stroke": "black", "strokeWidth": 1, "size": 70, "opacity": 1},
    "encoding": {"y": {"field": "f", "type": "quantitative", "scale": {"domain": [0, 452], "nice": false}, "axis": null}}},
   {"data": {"name": "bands"}, "transform": [{"filter": "datum.p==='b' && substring(datum.b,0,1)==='L'"}],
    "mark": {"type": "line", "interpolate": "monotone", "strokeWidth": 1.6},
    "encoding": {"y": {"field": "f", "type": "quantitative", "scale": {"domain": [0, 452], "nice": false},
       "axis": {"values": [0,20,40,60,80,100,120,140,160,180,200,220,240,260,280,300,320,340,360,380,400,420,440], "labelExpr": "datum.value % 100 === 0 ? datum.label : ''", "labelOverlap": false, "tickSize": {"condition": {"test": "datum.value % 100 === 0", "value": -7}, "value": -4}, "tickColor": "black", "labelPadding": 13, "domain": false, "grid": false, "title": "Frequency (cm⁻¹)", "titleFont": "Liberation Serif", "titleFontSize": 15, "titleFontWeight": "normal", "titleColor": "black", "labelFont": "Liberation Serif", "labelFontSize": 15, "labelColor": "black"}},
     "color": {"field": "b", "type": "nominal", "legend": null, "scale": {"domain": ["Lr","Lm","Lb","Lg","Lk","Lp","Ugy","Udgl","Udrl","Udrh","Upm","Ulg","Uv","Udgh","Upt","Ut"], "range": ["#ff0000","#ff00ff","#0000ff","#008000","#000000","#8010ff","#a0a0a0","#006400","#7a0000","#800000","#9a1aa0","#40ff40","#b070ff","#005a10","#800080","#5f9f8f"]}}}},
   {"data": {"name": "bands"}, "transform": [{"filter": "datum.p==='b' && substring(datum.b,0,1)==='U'"}],
    "mark": {"type": "line", "interpolate": "monotone", "strokeWidth": 1.6},
    "encoding": {"y": {"field": "f", "type": "quantitative", "scale": {"domain": [0, 452], "nice": false},
       "axis": {"orient": "right", "values": [0,20,40,60,80,100,120,140,160,180,200,220,240,260,280,300,320,340,360,380,400,420,440], "labels": false, "tickSize": {"condition": {"test": "datum.value % 100 === 0", "value": -7}, "value": -4}, "tickColor": "black", "domain": false, "grid": false, "title": null}},
     "color": {"field": "b", "type": "nominal", "legend": null}}}
  ],
  "resolve": {"axis": {"y": "independent"}}},
 {"width": 87, "height": 162, "data": {"name": "dosb"},
  "mark": {"type": "area", "orient": "horizontal", "color": "black"},
  "encoding": {"y": {"field": "f", "type": "quantitative", "scale": {"domain": [0, 452], "nice": false}, "axis": null},
   "x": {"field": "d", "type": "quantitative", "scale": {"domain": [0, 87], "nice": false}, "axis": null}}}
]}
]
}
